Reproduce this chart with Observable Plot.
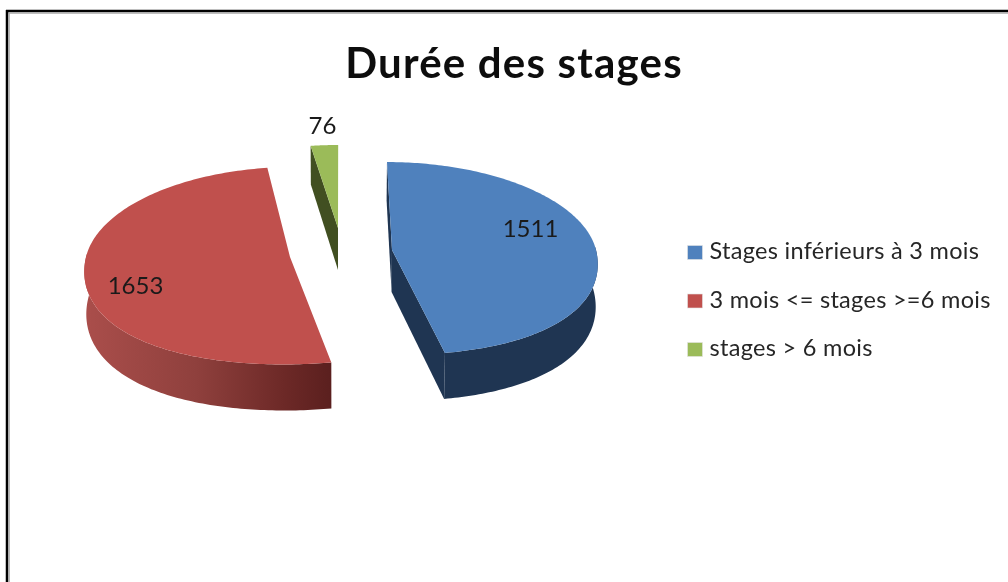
<!DOCTYPE html>
<html lang="fr">
<head>
<meta charset="utf-8">
<title>Durée des stages</title>
<script src="https://cdn.jsdelivr.net/npm/d3@7"></script>
<script src="https://cdn.jsdelivr.net/npm/@observablehq/plot@0.6"></script>
<style>
html,body{margin:0;padding:0;background:#fff;overflow:hidden}
svg{display:block}
svg g[aria-label="area"], svg g[aria-label="text"]{filter:blur(0.45px)}
</style>
</head>
<body>
<script>
// Data
const categories = ["Stages inférieurs à 3 mois", "3 mois <= stages >=6 mois", "stages > 6 mois"];
const values = [1511, 1653, 76];
const colors = ["#4f81bd", "#c0504d", "#9bbb59"];
const title = "Durée des stages";

// 3D pie layout: one exploded centre per slice, and a perspective projection
const centers = [[392, 250], [290, 257], [338, 228]];
const flatten = [95.7, 98, 90.3];
const labelAnchors = [[530, 229], [135, 286], [322, 126]];
const radiusX = 204, depth = 42, persp = 0.088, vanishX = 340, vanishH = 912, wallTaper = 0.008;

const arcs = d3.pie().sort(null).value(d => d).startAngle(0).endAngle(2 * Math.PI)(values);

function project(i, theta) {
  const [cx, cy] = centers[i];
  const full = Math.cos(theta) < 0 ? 1 + 0.03 * Math.sin(2 * theta) ** 2 : 1;
  const X = Math.sin(theta) * full, Z = Math.cos(theta) * full;
  const s = 1 / (1 + persp * Z);
  const y = cy - flatten[i] * Z * s;
  const x = cx + radiusX * X * s + (vanishX - cx) / vanishH * (cy - y);
  const yb = y + depth * s;
  const xb = x + (vanishX - x) * wallTaper;
  return {x, y, xb, yb};
}
const apex = i => {
  const [x, y] = centers[i];
  return {x, y, xb: x + (vanishX - x) * wallTaper, yb: y + depth};
};
const rim = i => d3.range(0, 181).map(k =>
  project(i, arcs[i].startAngle + (arcs[i].endAngle - arcs[i].startAngle) * k / 180));

const wallFills = ["#1f3552", "url(#wall1)", "#414f21"];
const faceFill = ["#1f3552", "#5c2120", "#414f21"];

// faces: inner cut walls (start and end edge of each slice)
const face = (i, theta) => {
  const a = apex(i), p = project(i, theta);
  return [{x1: a.x, y1: a.y, x2: a.xb, y2: a.yb}, {x1: p.x, y1: p.y, x2: p.xb, y2: p.yb}];
};

const marks = [];
marks.push(() => {
  const defs = d3.create("svg:defs");
  const g = (id, x1, x2, stops) => {
    const lg = defs.append("linearGradient").attr("id", id)
      .attr("gradientUnits", "userSpaceOnUse")
      .attr("x1", x1).attr("x2", x2).attr("y1", 0).attr("y2", 0);
    stops.forEach(([o, c]) => lg.append("stop").attr("offset", o).attr("stop-color", c));
  };
  g("wall1", 85, 333, [[0, "#aa4e4b"], [0.45, "#8f403d"], [0.8, "#6d2927"], [1, "#5a1f1e"]]);
  return defs.node();
});

// frame
marks.push(Plot.ruleY([10.5], {x1: 6, x2: 1008, stroke: "#000", strokeWidth: 2.5}));
marks.push(Plot.ruleY([12.5], {x1: 8, x2: 1008, stroke: "#a8a8a8", strokeWidth: 1.6}));
marks.push(Plot.ruleX([6.5], {y1: 10, y2: 582, stroke: "#000", strokeWidth: 2.5}));
marks.push(Plot.ruleX([8.5], {y1: 13, y2: 582, stroke: "#a8a8a8", strokeWidth: 1.6}));

// slices, back to front
[2, 1, 0].forEach(i => {
  const r = rim(i);
  const faces = i === 0 ? [arcs[0].startAngle, arcs[0].endAngle] : i === 2 ? [arcs[2].startAngle] : [];
  if (i !== 2) {
    marks.push(Plot.area(r.filter(p => p.y > centers[i][1] - 5),
      {x1: "x", y1: "y", x2: "xb", y2: "yb", fill: wallFills[i]}));
  }
  faces.forEach(t => marks.push(Plot.area(face(i, t),
    {x1: "x1", y1: "y1", x2: "x2", y2: "y2", fill: faceFill[i]})));
  const a = apex(i);
  marks.push(Plot.area(r, {x1: () => a.x, y1: () => a.y, x2: "x", y2: "y", fill: colors[i]}));
});

const font = "Lato, 'Open Sans', sans-serif";

// title
marks.push(Plot.text([title], {
  x: () => 513.5, y: () => 63.6, text: d => d, fontSize: 42, fontWeight: 700,
  fontFamily: font, fill: "#0d0d0d", textAnchor: "middle"
}));

// value labels
marks.push(Plot.text(values, {
  x: (d, i) => labelAnchors[i][0], y: (d, i) => labelAnchors[i][1],
  text: d => String(d), fontSize: 24, fontFamily: font, fill: "#1a1a1a", textAnchor: "middle"
}));

// legend
const legendY = i => 252.5 + i * 48.5;
marks.push(Plot.rect(categories, {
  x1: () => 687.5, x2: () => 702.5,
  y1: (d, i) => legendY(i) - 7, y2: (d, i) => legendY(i) + 7,
  fill: (d, i) => colors[i], stroke: "#e4e4e4", strokeWidth: 0.6
}));
marks.push(Plot.text(categories, {
  x: () => 709, y: (d, i) => legendY(i) - 1.2, text: d => d,
  fontSize: 23.5, fontFamily: font, fill: "#262626", textAnchor: "start"
}));

const chart = Plot.plot({
  width: 1008, height: 582,
  margin: 0,
  x: {type: "linear", domain: [0, 1008], range: [0, 1008], axis: null},
  y: {type: "linear", domain: [0, 582], range: [0, 582], axis: null},
  color: {type: "identity"},
  style: {background: "#fff"},
  marks
});
d3.select(chart).selectAll("text").each(function() {
  const t = this.textContent;
  if (t === title) this.style.letterSpacing = "1.2px";
  else if (categories.includes(t)) this.style.letterSpacing = "0.3px";
});
document.body.appendChild(chart);
</script>
</body>
</html>
